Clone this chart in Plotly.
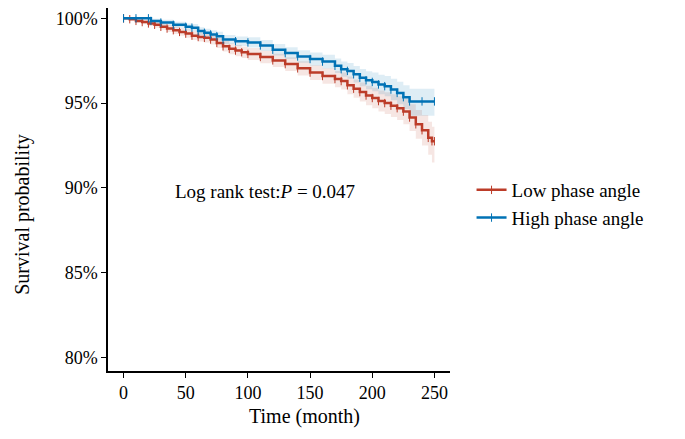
import plotly.graph_objects as go

# Kaplan-Meier estimates (time in months, survival in %)
t_low = [0, 5, 10, 15, 20, 25, 30, 35, 40, 45, 50, 55, 60, 65, 70, 75, 80, 85, 90, 95, 100,
         110, 120, 130, 140, 150, 160, 170, 175, 180, 185, 190, 195, 200, 205, 210, 215,
         220, 225, 230, 235, 240, 245, 248, 250]
s_low = [100, 99.95, 99.85, 99.78, 99.70, 99.62, 99.5, 99.40, 99.30, 99.2, 99.1, 98.98, 98.9,
         98.85, 98.75, 98.55, 98.35, 98.2, 98.1, 98.0, 97.9, 97.72, 97.52, 97.3, 97.05, 96.8,
         96.6, 96.42, 96.3, 96.05, 95.85, 95.65, 95.45, 95.3, 95.12, 95.0, 94.85, 94.7, 94.5,
         94.15, 93.75, 93.4, 92.95, 92.75, 92.75]
lo_low = [100, 99.90, 99.75, 99.65, 99.55, 99.45, 99.32, 99.2, 99.08, 98.97, 98.86, 98.72,
          98.63, 98.57, 98.46, 98.25, 98.04, 97.88, 97.77, 97.66, 97.55, 97.35, 97.13, 96.9,
          96.63, 96.36, 96.14, 95.94, 95.8, 95.53, 95.31, 95.09, 94.87, 94.7, 94.5, 94.36,
          94.18, 94.0, 93.76, 93.36, 92.9, 92.5, 91.95, 91.5, 91.5]
hi_low = [100, 100, 99.95, 99.9, 99.85, 99.78, 99.68, 99.6, 99.52, 99.43, 99.34, 99.24,
          99.17, 99.13, 99.04, 98.85, 98.66, 98.52, 98.43, 98.34, 98.25, 98.09, 97.91, 97.7,
          97.47, 97.24, 97.06, 96.9, 96.8, 96.57, 96.39, 96.21, 96.03, 95.9, 95.74, 95.64,
          95.52, 95.4, 95.24, 94.94, 94.6, 94.3, 93.9, 93.6, 93.6]

t_high = [0, 10, 20, 22, 30, 40, 50, 55, 60, 65, 70, 75, 80, 90, 100, 110, 120, 130, 140,
          150, 160, 170, 175, 180, 185, 190, 195, 200, 205, 210, 215, 220, 225, 230, 240, 250]
s_high = [100, 100, 100, 99.85, 99.75, 99.62, 99.5, 99.45, 99.25, 99.15, 99.05, 98.95, 98.75,
          98.65, 98.58, 98.4, 98.15, 97.95, 97.75, 97.6, 97.45, 97.2, 97.0, 96.9, 96.7, 96.5,
          96.35, 96.25, 96.1, 96.0, 95.8, 95.6, 95.35, 95.1, 95.1, 95.1]
lo_high = [100, 100, 100, 99.72, 99.58, 99.44, 99.3, 99.24, 99.02, 98.91, 98.8, 98.69, 98.48,
           98.37, 98.28, 98.08, 97.81, 97.6, 97.38, 97.21, 97.04, 96.77, 96.55, 96.43, 96.21,
           95.99, 95.82, 95.7, 95.52, 95.4, 95.17, 94.94, 94.65, 94.25, 94.25, 94.25]
hi_high = [100, 100, 100, 99.98, 99.92, 99.8, 99.7, 99.66, 99.48, 99.39, 99.3, 99.21, 99.02,
           98.93, 98.88, 98.72, 98.49, 98.3, 98.12, 97.99, 97.86, 97.63, 97.45, 97.37, 97.19,
           97.01, 96.88, 96.8, 96.68, 96.6, 96.43, 96.26, 96.05, 95.85, 95.85, 95.85]

x_ticks = [0, 50, 100, 150, 200, 250]
y_ticks = [80, 85, 90, 95, 100]
y_labels = ['80%', '85%', '90%', '95%', '100%']

groups = [
    ('Low phase angle', t_low, s_low, lo_low, hi_low, '#BC3C29', 'rgba(188,60,41,0.13)'),
    ('High phase angle', t_high, s_high, lo_high, hi_high, '#0072B5', 'rgba(0,114,181,0.13)'),
]

font = 'Liberation Serif'
fig = go.Figure()

for name, t, s, lo, hi, col, fillcol in groups:
    fig.add_trace(go.Scatter(x=t, y=hi, mode='lines', line=dict(width=0, shape='hv'),
                             showlegend=False, hoverinfo='skip'))
    fig.add_trace(go.Scatter(x=t, y=lo, mode='lines', line=dict(width=0, shape='hv'),
                             fill='tonexty', fillcolor=fillcol, showlegend=False,
                             hoverinfo='skip'))

for name, t, s, lo, hi, col, fillcol in groups:
    fig.add_trace(go.Scatter(x=t, y=s, name=name, mode='lines+markers',
                             line=dict(color=col, width=2.5, shape='hv'),
                             marker=dict(symbol='line-ns', size=6,
                                         line=dict(color=col, width=1))))

fig.add_annotation(x=114, y=89.8, xref='x', yref='y', showarrow=False,
                   text='Log rank test:<i>P</i> = 0.047',
                   font=dict(family=font, size=19, color='black'))

# axis titles placed as annotations to match the reference offsets
fig.add_annotation(x=0.576, y=-0.126, xref='paper', yref='paper', showarrow=False,
                   text='Time (month)', xanchor='center', yanchor='middle',
                   font=dict(family=font, size=20, color='black'))
fig.add_annotation(x=-0.252, y=0.4325, xref='paper', yref='paper', showarrow=False,
                   text='Survival probability', textangle=-90, xanchor='center',
                   yanchor='middle', font=dict(family=font, size=20, color='black'))

fig.update_layout(
    width=685, height=439,
    margin=dict(l=100, r=243, t=0, b=76),
    plot_bgcolor='white', paper_bgcolor='white',
    font=dict(family=font, size=17, color='black'),
    legend=dict(x=1.063, y=0.46, xanchor='left', yanchor='middle', traceorder='normal',
                font=dict(family=font, size=19), tracegroupgap=0),
)
fig.update_xaxes(range=[-12.5, 262.5], tickvals=x_ticks, showgrid=False, zeroline=False,
                 showline=True, linecolor='black', linewidth=1.5, ticks='outside',
                 ticklen=5, tickcolor='black', tickfont=dict(size=18), automargin=False)
fig.update_yaxes(range=[79.2, 100.61], tickvals=y_ticks, ticktext=y_labels, showgrid=False,
                 zeroline=False, showline=True, linecolor='black', linewidth=1.5,
                 ticks='outside', ticklen=5, tickcolor='black', tickfont=dict(size=18),
                 automargin=False)

fig.write_html('out.html')
